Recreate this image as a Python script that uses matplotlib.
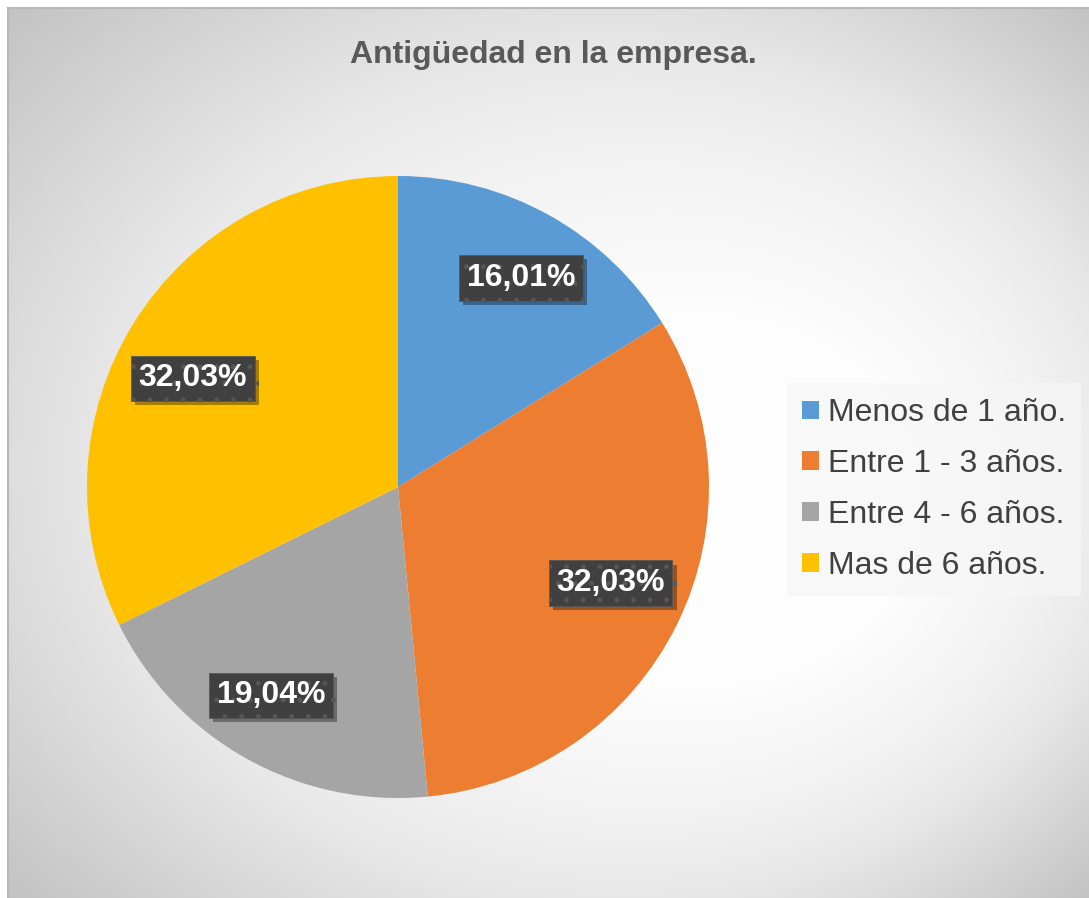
import numpy as np
import matplotlib
matplotlib.use('Agg')
import matplotlib.pyplot as plt
from matplotlib import patheffects as pe

categories = ["Menos de 1 año.", "Entre 1 - 3 años.", "Entre 4 - 6 años.", "Mas de 6 años."]
values = [16.01, 32.03, 19.04, 32.03]
colors = ["#5B9BD5", "#ED7D31", "#A5A5A5", "#FFC000"]
title = "Antigüedad en la empresa."

# label layout tweaks (distance as fraction of radius, angular nudge in degrees)
label_dist = [0.78, 0.75, 0.785, 0.746]
label_nudge = [-1.4, 2.0, -2.3, 3.9]

plt.rcParams['font.family'] = ['Liberation Sans', 'DejaVu Sans']

W, H = 1089, 898
fig = plt.figure(figsize=(W / 100, H / 100), dpi=100, facecolor='white')

# ---- background (focal radial gradient) ----
bg = fig.add_axes([8 / W, 0, 1 - 8 / W, 1 - 8 / H])
bw, bh = W - 8, H - 8
xs = np.linspace(-1, 1, bw)
ys = np.linspace(-1, 1, bh)
X, Y = np.meshgrid(xs, ys)
fx, fy = (760 - 8) / bw * 2 - 1, (520 - 8) / bh * 2 - 1
dx, dy = X - fx, Y - fy
dist = np.hypot(dx, dy)
ux, uy = dx / np.maximum(dist, 1e-9), dy / np.maximum(dist, 1e-9)
b = fx * ux + fy * uy
c = fx * fx + fy * fy - 2
s = -b + np.sqrt(b * b - c)
t = np.clip(dist / s, 0, 1)
g = np.interp(t, [0, 0.3, 0.53, 0.67, 1], [255, 253, 242, 232, 195]) / 255
bg.imshow(np.dstack([g, g, g]), aspect='auto', interpolation='bilinear')
bg.set_xticks([])
bg.set_yticks([])
for side in ['right', 'bottom']:
    bg.spines[side].set_visible(False)
for side in ['left', 'top']:
    bg.spines[side].set_color('#b8b8b8')
    bg.spines[side].set_linewidth(1.5)

# ---- pie ----
cx, cy, R = 398, 487, 311
ax = fig.add_axes([(cx - R) / W, (H - cy - R) / H, 2 * R / W, 2 * R / H])
ax.patch.set_alpha(0)
wedges, texts, autotexts = ax.pie(values, colors=colors, startangle=90, counterclock=False,
                                  autopct='%1.1f', pctdistance=0.77, radius=1,
                                  wedgeprops=dict(linewidth=0))
ax.set_xlim(-1, 1)
ax.set_ylim(-1, 1)

for w, at, v, d, n in zip(wedges, autotexts, values, label_dist, label_nudge):
    mid = np.deg2rad((w.theta1 + w.theta2) / 2 + n)
    at.set_position((d * np.cos(mid), d * np.sin(mid)))
    at.set_text(f"{v:.2f}%".replace('.', ','))
    at.set_fontsize(23)
    at.set_fontweight('bold')
    at.set_color('white')
    at.set_bbox(dict(boxstyle='square,pad=0.24', facecolor='#404040', edgecolor='#575757',
                     linewidth=0.6, hatch='.'))
    at.get_bbox_patch().set_path_effects([
        pe.SimplePatchShadow(offset=(3, -3), shadow_rgbFace='black', alpha=0.35),
        pe.Normal()])

# ---- title ----
fig.text(553 / W, 1 - 55 / H, title, ha='center', va='center', fontsize=23,
         fontweight='bold', color='#595959')

# ---- legend ----
leg = ax.legend(wedges, categories, loc='upper left', bbox_to_anchor=(787 / W, 1 - 383 / H),
                bbox_transform=fig.transFigure, fontsize=23, frameon=True,
                facecolor='#f6f6f6', edgecolor='none', framealpha=0.7, fancybox=False,
                handlelength=0.53, handleheight=0.53, handletextpad=0.27,
                labelspacing=0.65, borderpad=0.48, borderaxespad=0)
for txt in leg.get_texts():
    txt.set_color('#404040')

fig.savefig('out.png', dpi=100, facecolor='white')
